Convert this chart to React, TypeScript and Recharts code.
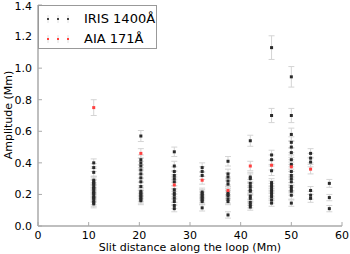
import { ScatterChart, Scatter, XAxis, YAxis, ErrorBar, Label } from 'recharts';

const slitDistance = [11.0, 20.3, 26.9, 32.4, 37.5, 41.9, 46.1, 50.0, 53.8, 57.5];

// IRIS 1400 amplitudes per slit position, as [amplitude, error]
const irisPoints: [number, number][][] = [
  [[0.40, 0.025], [0.37, 0.025], [0.34, 0.025], [0.29, 0.025], [0.28, 0.025], [0.27, 0.025], [0.265, 0.025], [0.25, 0.025], [0.24, 0.025], [0.235, 0.025], [0.22, 0.025], [0.21, 0.025], [0.205, 0.025], [0.19, 0.025], [0.18, 0.025], [0.175, 0.025], [0.16, 0.025], [0.15, 0.025], [0.14, 0.025]],
  [[0.57, 0.035], [0.42, 0.03], [0.40, 0.03], [0.38, 0.03], [0.355, 0.03], [0.33, 0.03], [0.305, 0.025], [0.28, 0.025], [0.25, 0.025], [0.22, 0.025], [0.21, 0.025], [0.20, 0.025], [0.19, 0.025], [0.18, 0.025], [0.17, 0.025], [0.16, 0.025]],
  [[0.47, 0.03], [0.38, 0.03], [0.345, 0.03], [0.32, 0.025], [0.30, 0.025], [0.28, 0.025], [0.23, 0.025], [0.21, 0.025], [0.195, 0.025], [0.175, 0.025], [0.155, 0.02], [0.13, 0.02], [0.11, 0.02]],
  [[0.37, 0.03], [0.345, 0.03], [0.32, 0.025], [0.215, 0.025], [0.205, 0.025], [0.195, 0.025], [0.185, 0.025], [0.175, 0.025], [0.165, 0.025], [0.155, 0.02], [0.115, 0.02]],
  [[0.41, 0.03], [0.33, 0.03], [0.31, 0.025], [0.285, 0.025], [0.265, 0.025], [0.21, 0.025], [0.20, 0.025], [0.19, 0.025], [0.17, 0.025], [0.155, 0.02], [0.07, 0.02]],
  [[0.54, 0.035], [0.31, 0.03], [0.30, 0.03], [0.27, 0.025], [0.25, 0.025], [0.23, 0.025], [0.22, 0.025], [0.19, 0.025], [0.175, 0.025], [0.15, 0.02], [0.135, 0.02], [0.12, 0.02]],
  [[1.13, 0.075], [0.70, 0.045], [0.45, 0.03], [0.42, 0.03], [0.35, 0.03], [0.275, 0.025], [0.26, 0.025], [0.245, 0.025], [0.23, 0.025], [0.215, 0.025], [0.20, 0.025], [0.185, 0.025], [0.165, 0.02], [0.145, 0.02]],
  [[0.945, 0.065], [0.70, 0.045], [0.58, 0.04], [0.53, 0.035], [0.50, 0.035], [0.465, 0.03], [0.42, 0.03], [0.39, 0.03], [0.345, 0.03], [0.32, 0.025], [0.30, 0.025], [0.28, 0.025], [0.25, 0.025], [0.235, 0.025], [0.22, 0.025], [0.195, 0.025], [0.145, 0.02]],
  [[0.46, 0.03], [0.43, 0.03], [0.405, 0.03], [0.225, 0.025], [0.195, 0.025], [0.175, 0.025]],
  [[0.27, 0.025], [0.18, 0.02], [0.11, 0.02]],
];

// AIA 171 amplitudes, one per slit position (none at the last one)
const aiaPoints: [number, number][] = [
  [0.75, 0.05], [0.46, 0.03], [0.26, 0.025], [0.29, 0.025], [0.225, 0.025],
  [0.38, 0.03], [0.385, 0.03], [0.375, 0.03], [0.36, 0.03],
];

const xTicks = [0, 10, 20, 30, 40, 50, 60];
const yTicks = [0, 0.2, 0.4, 0.6, 0.8, 1.0, 1.2, 1.4];

const irisData = irisPoints.flatMap((col, i) =>
  col.map(([amp, err]) => ({ x: slitDistance[i], y: amp, err }))
);
const aiaData = aiaPoints.map(([amp, err], i) => ({ x: slitDistance[i], y: amp, err }));

const font = 'DejaVu Sans';
const frame = '#aaaaaa';
const errColor = '#d4d4d4';
const tickStyle = { fill: '#000', fontSize: 11, fontFamily: font };

const square = (color: string) => (props: any) => (
  <rect x={props.cx - 1.5} y={props.cy - 1.5} width={3} height={3} fill={color} />
);

function LegendMarks({ color }: { color: string }) {
  return (
    <svg width={36} height={12} style={{ display: 'block' }}>
      {[4, 14, 24].map((x) => (
        <g key={x}>
          <line x1={x} x2={x} y1={2} y2={10} stroke="#e0e0e0" strokeWidth={1} />
          <rect x={x - 1} y={5} width={2} height={2} fill={color} />
        </g>
      ))}
    </svg>
  );
}

export default function App() {
  return (
    <div style={{ position: 'relative', width: 350, height: 254, fontFamily: font }}>
      <style>{'body{margin:0}'}</style>
      <ScatterChart width={350} height={254} margin={{ top: 5, right: 8, bottom: 0, left: 0 }}>
        <XAxis
          type="number"
          dataKey="x"
          domain={[0, 60]}
          ticks={xTicks}
          height={28}
          tick={tickStyle}
          tickSize={-4}
          tickMargin={9}
          axisLine={{ stroke: frame, strokeWidth: 1.5 }}
          tickLine={{ stroke: frame }}
        >
          <Label
            value="Slit distance along the loop (Mm)"
            position="insideBottom"
            offset={3}
            style={{ fill: '#000', fontSize: 11, fontFamily: font }}
          />
        </XAxis>
        <XAxis
          xAxisId="top"
          orientation="top"
          type="number"
          dataKey="x"
          domain={[0, 60]}
          ticks={xTicks}
          height={0}
          tick={false}
          tickSize={-4}
          axisLine={{ stroke: frame, strokeWidth: 1.5 }}
          tickLine={{ stroke: frame }}
        />
        <YAxis
          type="number"
          dataKey="y"
          domain={[0, 1.4]}
          ticks={yTicks}
          width={38}
          allowDataOverflow
          tick={tickStyle}
          tickFormatter={(v: number) => v.toFixed(1)}
          tickSize={-4}
          tickMargin={10}
          axisLine={{ stroke: frame, strokeWidth: 1.5 }}
          tickLine={{ stroke: frame }}
        >
          <Label
            content={() => (
              <text
                x={9}
                y={115}
                transform="rotate(-90 9 115)"
                textAnchor="middle"
                dominantBaseline="middle"
                fill="#000"
                fontSize={11}
                fontFamily={font}
              >
                Amplitude (Mm)
              </text>
            )}
          />
        </YAxis>
        <YAxis
          yAxisId="right"
          orientation="right"
          type="number"
          dataKey="y"
          domain={[0, 1.4]}
          ticks={yTicks}
          width={0}
          allowDataOverflow
          tick={false}
          tickSize={-4}
          axisLine={{ stroke: frame, strokeWidth: 1.5 }}
          tickLine={{ stroke: frame }}
        />
        <Scatter data={irisData} shape={square('#2a2a2a')} isAnimationActive={false}>
          <ErrorBar dataKey="err" direction="y" width={3} stroke={errColor} strokeWidth={1} />
        </Scatter>
        <Scatter data={aiaData} shape={square('#ff4040')} isAnimationActive={false}>
          <ErrorBar dataKey="err" direction="y" width={3} stroke={errColor} strokeWidth={1} />
        </Scatter>
      </ScatterChart>
      <div
        style={{
          position: 'absolute',
          left: 38,
          top: 5,
          width: 119,
          height: 44,
          border: '1px solid #999999',
          background: '#fff',
          boxSizing: 'border-box',
        }}
      >
        {[
          { name: 'IRIS 1400Å', color: '#444444', top: 6 },
          { name: 'AIA 171Å', color: '#ff4040', top: 26 },
        ].map((e) => (
          <div
            key={e.name}
            style={{ position: 'absolute', left: 5, top: e.top, display: 'flex', alignItems: 'center' }}
          >
            <LegendMarks color={e.color} />
            <span style={{ marginLeft: 4, fontSize: 13, lineHeight: '13px', color: '#000' }}>{e.name}</span>
          </div>
        ))}
      </div>
    </div>
  );
}
